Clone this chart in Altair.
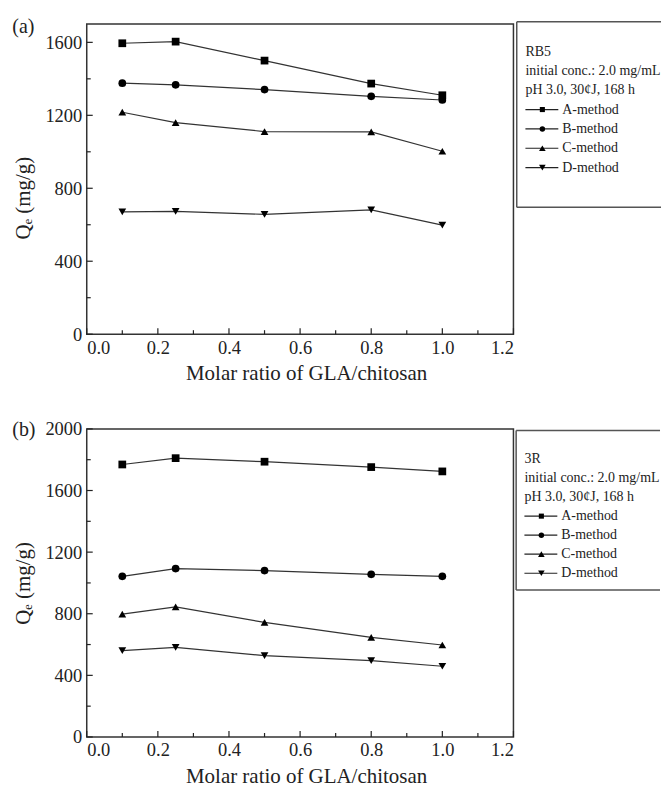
import altair as alt
import pandas as pd

FONT = "Liberation Serif"

# ---------------- data ----------------
ratio = [0.1, 0.25, 0.5, 0.8, 1.0]
methods = ["A-method", "B-method", "C-method", "D-method"]
shapes = ["square", "circle", "triangle-up", "triangle-down"]
plot_sizes = [60, 60, 95, 95]
legend_sizes = [26, 30, 44, 44]

rb5_A = [1595, 1604, 1500, 1374, 1310]
rb5_B = [1376, 1367, 1341, 1304, 1284]
rb5_C = [1217, 1160, 1111, 1109, 1003]
rb5_D = [671, 673, 657, 682, 598]

r3_A = [1769, 1810, 1787, 1752, 1724]
r3_B = [1043, 1093, 1080, 1056, 1043]
r3_C = [797, 845, 744, 647, 597]
r3_D = [560, 582, 528, 496, 459]

x_major = [0.0, 0.2, 0.4, 0.6, 0.8, 1.0, 1.2]
x_minor = [0.1, 0.3, 0.5, 0.7, 0.9, 1.1]
a_y_major = [0, 400, 800, 1200, 1600]
a_y_minor = [200, 600, 1000, 1400]
b_y_major = [0, 400, 800, 1200, 1600, 2000]
b_y_minor = [200, 600, 1000, 1400, 1800]

a_head = ["RB5", "initial conc.: 2.0 mg/mL", "pH 3.0, 30¢J, 168 h"]
b_head = ["3R", "initial conc.: 2.0 mg/mL", "pH 3.0, 30¢J, 168 h"]

x_title = "Molar ratio of GLA/chitosan"
y_title = "Q\u2091 (mg/g)"

W = 428
INK = "#222222"


def make_panel(tag, series, y_max, y_major, y_minor, H, head, ytc, tag_y,
               box_top, box_bottom, box_left, box_right, text_x, row0, step):
    rows = []
    for m, vals in zip(methods, series):
        for r, v in zip(ratio, vals):
            rows.append({"ratio": r, "Qe": v, "method": m})
    df = pd.DataFrame(rows)

    xs = alt.Scale(domain=[0, 1.2], nice=False, zero=False)
    ys = alt.Scale(domain=[0, y_max], nice=False)

    x_axis = alt.Axis(
        values=x_major, format=".1f", ticks=False, domain=False, grid=False,
        labelPadding=4, labelFontSize=18.5, labelFont=FONT, labelColor=INK,
        title=x_title, titleFont=FONT, titleFontSize=21, titleFontWeight="normal",
        titleColor=INK, titleX=220, titleY=45.5, titleBaseline="alphabetic",
        titleAlign="center")
    y_axis = alt.Axis(
        values=y_major, format="d", ticks=False, domain=False, grid=False,
        labelPadding=5, labelFontSize=18.5, labelFont=FONT, labelColor=INK,
        title=y_title, titleFont=FONT, titleFontSize=21, titleFontWeight="normal",
        titleColor=INK, titleX=-57, titleY=ytc, titleAngle=270,
        titleBaseline="alphabetic", titleAlign="center")
    x_enc = alt.X("ratio:Q", scale=xs, axis=x_axis)
    y_enc = alt.Y("Qe:Q", scale=ys, axis=y_axis)

    lines = alt.Chart(df).mark_line(color="#333333", strokeWidth=1.2).encode(
        x=x_enc, y=y_enc, detail="method:N")
    pts = alt.Chart(df).mark_point(filled=True, color="black", opacity=1).encode(
        x=x_enc, y=y_enc,
        shape=alt.Shape("method:N", scale=alt.Scale(domain=methods, range=shapes), legend=None),
        size=alt.Size("method:N", scale=alt.Scale(domain=methods, range=plot_sizes), legend=None))

    layers = [lines, pts]

    # inward ticks
    for vals, ln in ((x_major, 6), (x_minor, 4)):
        layers.append(alt.Chart(pd.DataFrame({"ratio": vals})).mark_rule(color=INK, strokeWidth=1.2).encode(
            x=x_enc, y=alt.value(H), y2=alt.value(H - ln)))
    for vals, ln in ((y_major, 6), (y_minor, 4)):
        layers.append(alt.Chart(pd.DataFrame({"Qe": vals})).mark_rule(color=INK, strokeWidth=1.2).encode(
            y=y_enc, x=alt.value(0), x2=alt.value(ln)))

    # panel tag
    layers.append(alt.Chart(pd.DataFrame({"t": [tag]})).mark_text(
        align="left", baseline="middle", font=FONT, fontSize=20, color=INK).encode(
        x=alt.value(-74.7), y=alt.value(tag_y), text="t:N"))

    # legend box (top, bottom, left edges)
    box = "#555555"
    for yy in (box_top, box_bottom):
        layers.append(alt.Chart(pd.DataFrame({"k": [0]})).mark_rule(color=box, strokeWidth=1.5).encode(
            x=alt.value(box_left), x2=alt.value(box_right), y=alt.value(yy)))
    layers.append(alt.Chart(pd.DataFrame({"k": [0]})).mark_rule(color=box, strokeWidth=1.5).encode(
        x=alt.value(box_left), y=alt.value(box_top), y2=alt.value(box_bottom)))

    # legend header lines
    for i, txt in enumerate(head):
        layers.append(alt.Chart(pd.DataFrame({"t": [txt]})).mark_text(
            align="left", baseline="middle", font=FONT, fontSize=14, color=INK).encode(
            x=alt.value(text_x), y=alt.value(row0 + i * step), text="t:N"))
    # legend entries
    for j, (m, s, sz) in enumerate(zip(methods, shapes, legend_sizes)):
        yy = row0 + (len(head) + j) * step
        one = pd.DataFrame({"t": [m]})
        layers.append(alt.Chart(one).mark_rule(color=INK, strokeWidth=1.2).encode(
            x=alt.value(text_x), x2=alt.value(text_x + 33), y=alt.value(yy)))
        layers.append(alt.Chart(one).mark_point(filled=True, color="black", opacity=1,
                                                size=sz, shape=s).encode(
            x=alt.value(text_x + 17), y=alt.value(yy)))
        layers.append(alt.Chart(one).mark_text(
            align="left", baseline="middle", font=FONT, fontSize=14, color=INK).encode(
            x=alt.value(text_x + 37), y=alt.value(yy), text="t:N"))

    return alt.layer(*layers).properties(width=W, height=H)


pa = make_panel("(a)", [rb5_A, rb5_B, rb5_C, rb5_D], 1700, a_y_major, a_y_minor, 311, a_head,
                174, 2.7, -2.3, 183.7, 431.3, 576, 440, 27.5, 19.4)
pb = make_panel("(b)", [r3_A, r3_B, r3_C, r3_D], 2000, b_y_major, b_y_minor, 309, b_head,
                154.5, 1.0, 1.7, 161.7, 430.7, 575, 439, 30.2, 19.1)

chart = alt.vconcat(pa, pb, spacing=34).properties(
    padding={"left": 11, "top": 14, "right": 0, "bottom": 0},
    background="white",
).configure_view(stroke="#333333", strokeWidth=1.5).configure_axis(
    titleFont=FONT, labelFont=FONT
)

chart.save("out.html", embed_options={"renderer": "svg", "actions": False})
